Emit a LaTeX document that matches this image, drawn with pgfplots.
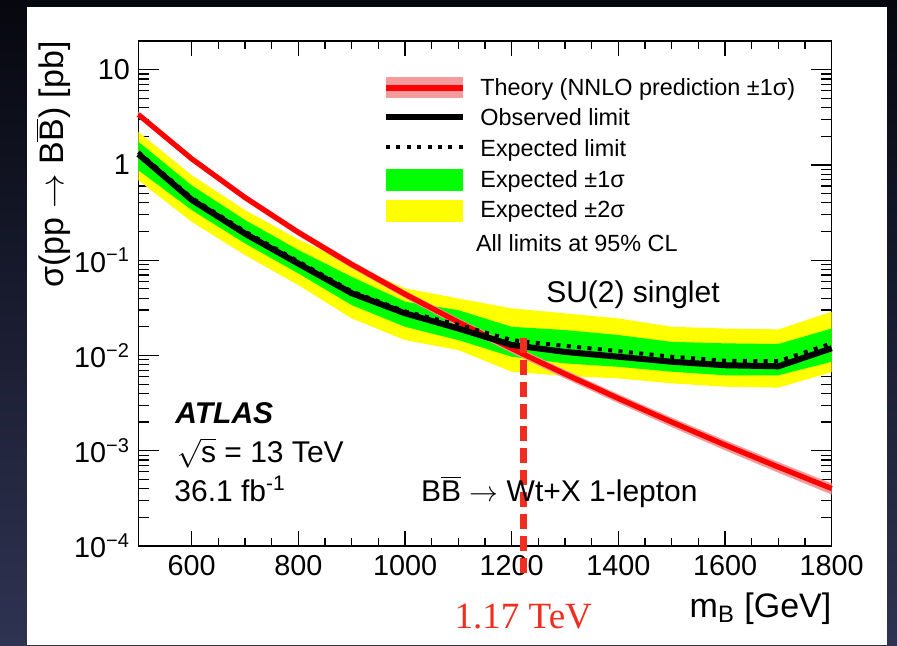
\documentclass[border=0pt]{standalone}
\usepackage{fontspec}
\setmainfont{Liberation Sans}
\newfontfamily\serif{Liberation Serif}
\usepackage{pgfplots}
\pgfplotsset{compat=1.18}
\usepackage{pgfplotstable}
\usepgfplotslibrary{fillbetween}
\definecolor{thband}{RGB}{245,155,155}
\definecolor{vline}{RGB}{240,45,30}
\definecolor{bgtop}{RGB}{6,7,15}
\definecolor{bgbot}{RGB}{46,51,82}
\definecolor{ygreen}{RGB}{0,255,0}
\definecolor{yyellow}{RGB}{255,255,0}
\definecolor{rred}{RGB}{255,0,0}
\newcommand\Bbar{$\overline{\mbox{B}}$}

\pgfplotstableread{
m obs exp g1lo g1hi y2lo y2hi
500 1.30 1.36 0.88 1.75 0.69 2.22
600 0.43 0.45 0.336 0.61 0.253 0.78
700 0.19 0.20 0.15 0.264 0.113 0.336
800 0.092 0.097 0.0726 0.128 0.0548 0.165
900 0.045 0.047 0.0338 0.067 0.0245 0.092
1000 0.0277 0.029 0.020 0.0367 0.0145 0.0506
1100 0.0192 0.021 0.0145 0.0299 0.0114 0.0397
1200 0.0129 0.0145 0.0097 0.020 0.00675 0.0312
1300 0.0109 0.0126 0.00826 0.0185 0.0061 0.0277
1400 0.0097 0.0111 0.0076 0.0164 0.00575 0.0245
1500 0.0086 0.0097 0.00675 0.0139 0.0051 0.020
1600 0.0079 0.0088 0.0062 0.0134 0.0047 0.0192
1700 0.0077 0.0087 0.0062 0.0132 0.0046 0.0188
1800 0.0119 0.0134 0.0086 0.0192 0.0067 0.0288
}\limtab

\pgfplotstableread{
m th lo hi
500 3.38 3.14 3.62
600 1.16 1.075 1.245
700 0.455 0.420 0.490
800 0.196 0.180 0.212
900 0.0903 0.0826 0.0980
1000 0.0440 0.0400 0.0480
1100 0.0224 0.0203 0.0245
1200 0.0118 0.01064 0.01296
1300 0.00639 0.00573 0.00705
1400 0.00354 0.00316 0.00392
1500 0.00200 0.00177 0.00223
1600 0.00115 0.00101 0.00129
1700 0.000674 0.000588 0.000760
1800 0.000401 0.000347 0.000455
}\thtab

\begin{document}
\begin{tikzpicture}
\begin{axis}[
  at={(69.2pt,49.5pt)}, anchor=south west,
  width=346.65pt, height=252.5pt, scale only axis,
  clip=false,
  xmin=500, xmax=1800, ymode=log, ymin=1e-4, ymax=20,
  xtick={600,800,1000,1200,1400,1600,1800},
  xticklabels={600,800,1000,1200,1400,1600,1800},
  minor x tick num=3,
  ytickten={-4,-3,-2,-1,0,1},
  yticklabels={10\textsuperscript{−4},10\textsuperscript{−3},10\textsuperscript{−2},10\textsuperscript{−1},1,10},
  tick align=inside,
  axis line style={line width=0.6pt},
  every tick/.style={black, line width=0.6pt},
  major tick length=9pt, minor tick length=4.5pt,
  xtick style={/pgfplots/major tick length=7.5pt,/pgfplots/minor tick length=3.8pt},
  ytick style={/pgfplots/major tick length=10.5pt,/pgfplots/minor tick length=5.2pt},
  tick label style={font=\fontsize{14.4}{17}\selectfont},
  xticklabel style={anchor=base, inner sep=0pt, yshift=-14.5pt},
  yticklabel style={anchor=east, inner sep=0pt, xshift=-4pt},
  xlabel={m\textsubscript{B} [GeV]},
  xlabel style={at={(axis description cs:1,0)}, anchor=base east, inner sep=0pt, yshift=-35.5pt, font=\fontsize{17}{20}\selectfont},
  ylabel={σ(pp $\rightarrow$ B\Bbar) [pb]},
  ylabel style={at={(axis description cs:-0.1082,1)}, anchor=base east, inner sep=0pt, font=\fontsize{17}{20}\selectfont},
]
\begin{pgfonlayer}{axis background}
\shade[top color=bgtop,bottom color=bgbot] (rel axis cs:0,0) ++(-69.2pt,-49.5pt) rectangle ++(448.5pt,322.5pt);
\fill[white] (rel axis cs:0,0) ++(-55.7pt,-49.5pt) rectangle ++(430pt,319pt);
\end{pgfonlayer}
\addplot[name path=y2hi, draw=none, forget plot] table[x=m,y=y2hi]{\limtab};
\addplot[name path=y2lo, draw=none, forget plot] table[x=m,y=y2lo]{\limtab};
\addplot[yyellow, forget plot] fill between[of=y2hi and y2lo];
\addplot[name path=g1hi, draw=none, forget plot] table[x=m,y=g1hi]{\limtab};
\addplot[name path=g1lo, draw=none, forget plot] table[x=m,y=g1lo]{\limtab};
\addplot[ygreen, forget plot] fill between[of=g1hi and g1lo];
\addplot[name path=thhi, draw=none, forget plot] table[x=m,y=hi]{\thtab};
\addplot[name path=thlo, draw=none, forget plot] table[x=m,y=lo]{\thtab};
\addplot[thband, forget plot] fill between[of=thhi and thlo];
\addplot[rred, line width=2.6pt] table[x=m,y=th]{\thtab};
\addplot[black, line width=2pt, dash pattern=on 2pt off 3.2pt] table[x=m,y=exp]{\limtab};
\addplot[black, line width=3pt] table[x=m,y=obs]{\limtab};
\coordinate (vt) at (axis cs:1222,0.01524);
\coordinate (vb) at (axis cs:1222,0.0001);
\end{axis}
\draw[vline, line width=3.3pt, dash pattern=on 7.5pt off 3.5pt] (vt) -- ([yshift=-15.35pt]vb);
\begin{scope}[x=0.5pt,y=-0.5pt,shift={(0pt,322.5pt)}]
\fill[thband] (386,76.7) rectangle (463,98.3);
\draw[rred, line width=2.6pt] (386,88) -- (463,88);
\draw[black, line width=3pt] (386,117) -- (463,117);
\draw[black, line width=2pt, dash pattern=on 2pt off 3.2pt] (386,147) -- (463,147);
\fill[ygreen] (386,169.3) rectangle (463,191);
\fill[yyellow] (386,200) rectangle (463,221.7);
\begin{scope}[every node/.style={anchor=base west, inner sep=0pt, font=\fontsize{11.7}{14}\selectfont}]
\node at (480,95.7) {Theory (NNLO prediction ±1σ)};
\node at (480,125.7) {Observed limit};
\node at (480,156.7) {Expected limit};
\node at (480,187.3) {Expected ±1σ};
\node at (480,217.3) {Expected ±2σ};
\node at (475.7,251.7) {All limits at 95\% CL};
\end{scope}
\node[anchor=base, inner sep=0pt, font=\fontsize{15}{18}\selectfont] at (633,302) {SU(2) singlet};
\node[anchor=base west, inner sep=0pt, font=\fontsize{15}{18}\selectfont\bfseries\itshape] at (175,423.3) {ATLAS};
\node[anchor=base west, inner sep=0pt, font=\fontsize{15}{18}\selectfont] at (176.7,462.7) {$\sqrt{\mbox{s}}$ = 13 TeV};
\node[anchor=base west, inner sep=0pt, font=\fontsize{15}{18}\selectfont] at (174,501) {36.1 fb\textsuperscript{-1}};
\node[anchor=base east, inner sep=0pt, font=\fontsize{15}{18}\selectfont] at (698,501) {B\Bbar{} $\rightarrow$ Wt+X 1-lepton};
\node[anchor=base, inner sep=0pt, text=vline, font=\serif\fontsize{18.5}{22}\selectfont] at (523.3,628) {1.17 TeV};
\end{scope}
\pgfresetboundingbox
\useasboundingbox (0,0) rectangle (448.5pt,322.5pt);
\end{tikzpicture}
\end{document}
